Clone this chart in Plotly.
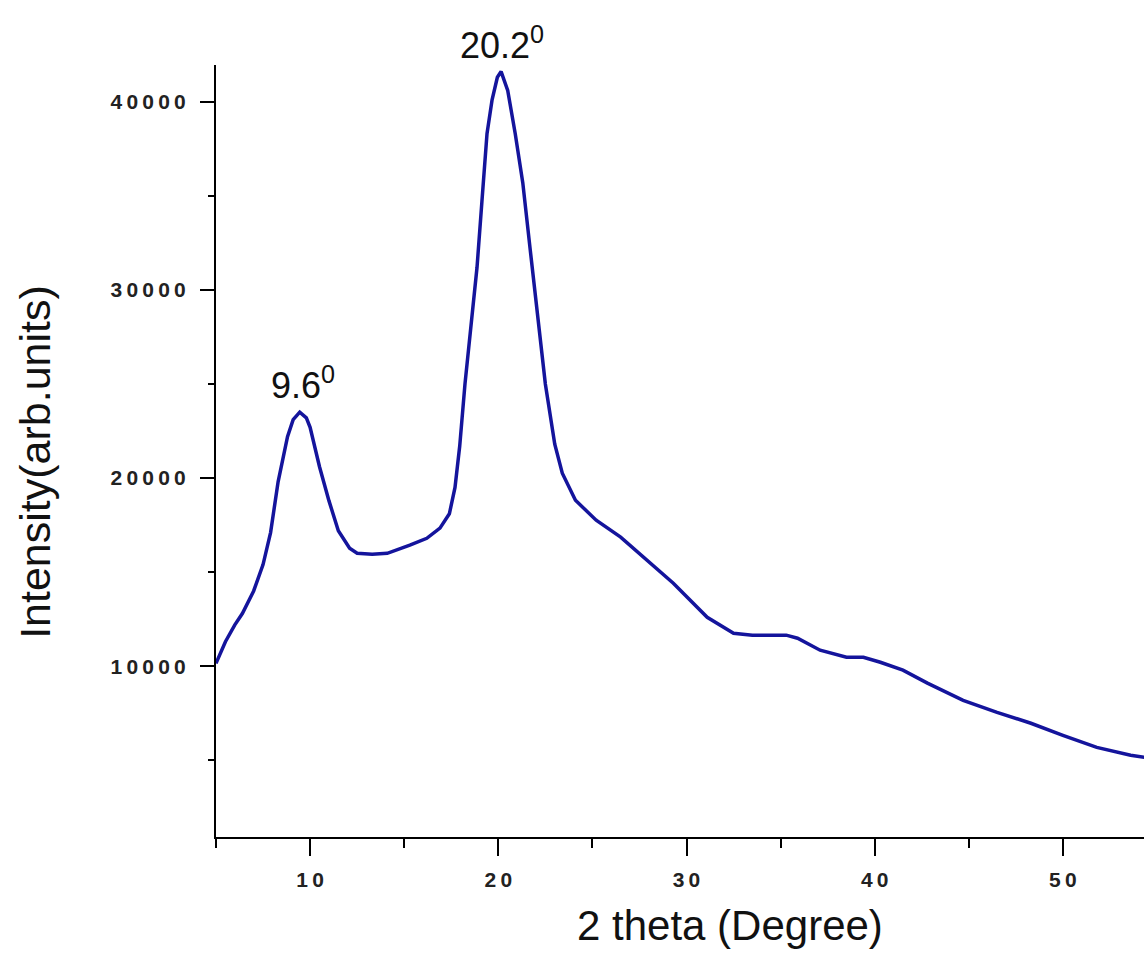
import plotly.graph_objects as go

# 2-theta (degree) and intensity
two_theta = [5.0, 5.5, 6.0, 6.4, 7.0, 7.5, 7.9, 8.3, 8.8, 9.1, 9.45, 9.8, 10.0, 10.5,
             11.0, 11.5, 12.1, 12.5, 13.3, 14.1, 15.3, 16.2, 16.9, 17.4, 17.7, 17.95,
             18.23, 18.6, 18.87, 19.13, 19.4, 19.67, 19.95, 20.15, 20.5, 20.9, 21.3,
             21.7, 22.1, 22.5, 23.0, 23.4, 24.1, 25.2, 26.5, 27.9, 29.3, 31.1, 32.5,
             33.5, 35.3, 35.9, 37.1, 38.5, 39.4, 40.3, 41.5, 42.8, 44.7, 46.5, 48.3,
             50.0, 51.8, 53.6, 55.0]
intensity = [10150, 11300, 12200, 12800, 14000, 15400, 17100, 19800, 22200, 23100,
             23500, 23200, 22700, 20600, 18800, 17200, 16270, 16000, 15950, 16000,
             16430, 16800, 17340, 18100, 19500, 21700, 25000, 28500, 31200, 34700,
             38300, 40100, 41300, 41600, 40600, 38300, 35700, 32100, 28500, 25000,
             21800, 20260, 18820, 17760, 16860, 15640, 14410, 12600, 11750, 11650,
             11650, 11490, 10850, 10480, 10480, 10210, 9790, 9100, 8190, 7550, 6970,
             6330, 5690, 5270, 5050]

x_tick_vals = [10, 20, 30, 40, 50]
x_tick_labels = ["10", "20", "30", "40", "50"]
y_tick_vals = [10000, 20000, 30000, 40000]
y_tick_labels = ["10000", "20000", "30000", "40000"]

peak_x = [9.6, 20.2]
peak_y = [23500, 41600]
peak_labels = ["9.6<sup>0</sup>", "20.2<sup>0</sup>"]

FONT = "Liberation Sans, Arial, sans-serif"


def spaced(s):
    return "\u2009".join(s)


fig = go.Figure()
fig.add_trace(go.Scatter(x=two_theta, y=intensity, mode="lines",
                         line=dict(color="#14149c", width=3.5), showlegend=False))

for px, py, lab in zip(peak_x, peak_y, peak_labels):
    fig.add_annotation(x=px, y=py, xref="x", yref="y", text=lab, showarrow=False,
                       yanchor="bottom", xanchor="center", yshift=4,
                       font=dict(family=FONT, size=36, color="#111"))

fig.add_annotation(x=0.554, y=-0.114, xref="paper", yref="paper",
                   text="2 theta (Degree)", showarrow=False,
                   xanchor="center", yanchor="middle",
                   font=dict(family=FONT, size=42, color="#111"))
fig.add_annotation(x=-0.195, y=0.486, xref="paper", yref="paper",
                   text="Intensity(arb.units)", showarrow=False, textangle=-90,
                   xanchor="center", yanchor="middle",
                   font=dict(family=FONT, size=43, color="#111"))

fig.update_xaxes(range=[5, 5 + (1144 - 216) / 18.82], showgrid=False, zeroline=False,
                 showline=True, linecolor="black", linewidth=2,
                 ticks="outside", ticklen=17, tickwidth=2, tickcolor="black",
                 tickvals=x_tick_vals, ticktext=[spaced(t) for t in x_tick_labels],
                 tickfont=dict(family=FONT, size=21, color="#222", weight="bold"),
                 ticklabelstandoff=6,
                 minor=dict(tickvals=[5, 15, 25, 35, 45], ticks="outside", ticklen=9,
                            tickwidth=2, tickcolor="black"))
fig.update_yaxes(range=[925, 41950], showgrid=False, zeroline=False,
                 showline=True, linecolor="black", linewidth=2,
                 ticks="outside", ticklen=14, tickwidth=2, tickcolor="black",
                 tickvals=y_tick_vals, ticktext=[spaced(t) for t in y_tick_labels],
                 tickfont=dict(family=FONT, size=21, color="#222", weight="bold"),
                 ticklabelstandoff=10,
                 minor=dict(tickvals=[5000, 15000, 25000, 35000], ticks="outside",
                            ticklen=6, tickwidth=2, tickcolor="black"))

fig.update_layout(width=1144, height=961, plot_bgcolor="white", paper_bgcolor="white",
                  margin=dict(l=216, r=0, t=65, b=124, autoexpand=False))

fig.write_html("out.html")
